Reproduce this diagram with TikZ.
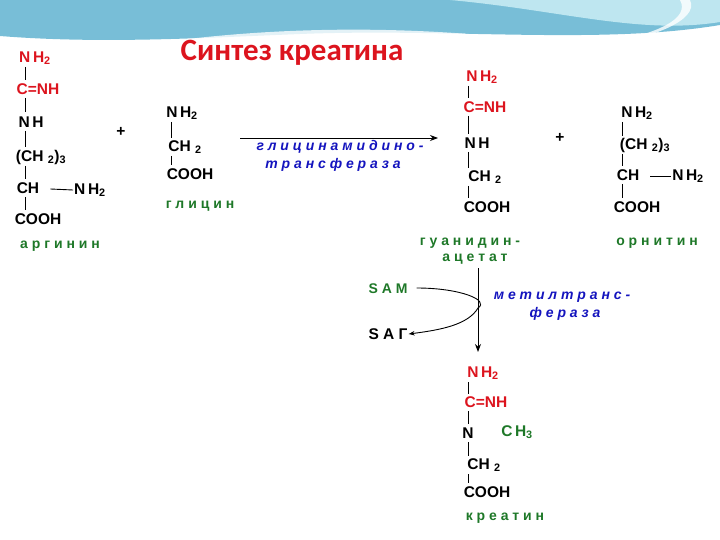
\documentclass[tikz,border=0pt]{standalone}
\usepackage{fontspec}
\setmainfont{Liberation Sans}
\newfontfamily\titlefont{Carlito}
\usetikzlibrary{arrows.meta}
\definecolor{cred}{RGB}{220,20,30}
\definecolor{cgreen}{RGB}{30,120,40}
\definecolor{cblue}{RGB}{20,20,190}
\definecolor{wave1}{RGB}{120,190,215}
\definecolor{wave2}{RGB}{190,230,240}
\begin{document}
\begin{tikzpicture}[x=1pt,y=-1pt,
  f/.style={font=\bfseries\fontsize{15.5}{15}\selectfont,inner sep=1pt},
  rf/.style={f,text=cred},
  lab/.style={font=\bfseries\fontsize{14}{14}\selectfont,text=cgreen,inner sep=1pt},
  enz/.style={font=\bfseries\itshape\fontsize{14}{14}\selectfont,text=cblue,inner sep=1pt},
  bond/.style={line width=0.9pt}]
\useasboundingbox (0,0) rectangle (720,540);
\fill[wave1] (0,0) -- (720,0) -- (720,25) .. controls (600,45) and (450,28) .. (300,34) .. controls (200,38) and (100,44) .. (0,36) -- cycle;
\fill[wave2] (450,0) -- (720,0) -- (720,22) .. controls (640,35) and (560,10) .. (450,0) -- cycle;
\fill[white,opacity=0.8] (150,44) .. controls (300,22) and (450,28) .. (560,44) .. controls (450,34) and (300,32) .. (150,44) -- cycle;
\fill[white,opacity=0.8] (690,0) .. controls (700,20) and (650,40) .. (600,44) .. controls (660,34) and (690,18) .. (680,0) -- cycle;
\node[font=\titlefont\bfseries\fontsize{31}{31}\selectfont,text=cred] (title) at (292,53) {Синтез креатина};
% arginine
\node[rf] (a1) at (35,58) {N\,H\textsubscript{2}};
\node[rf] (a2) at (38,89) {C=NH};
\node[f] (a3) at (31,122) {N\,H};
\node[f] (a4) at (41,157) {(CH \textsubscript{2})\textsubscript{3}};
\node[f] (a5) at (28,188) {CH};
\node[f] (a6) at (90,190) {N\,H\textsubscript{2}};
\node[f] (a7) at (38,219) {COOH};
\node[lab] (al) at (60,246) {а р г и н и н};
\draw[bond] (25,67) -- (25,80) (25,98) -- (25,112) (25,131) -- (25,147) (25,166) -- (25,179) (25,197) -- (25,210);
\draw[bond] (a5.east)++(10,1) -- (a6.west);
\node[f] (p1) at (121,132) {+};
% glycine
\node[f] (g1) at (182,113) {N\,H\textsubscript{2}};
\node[f] (g2) at (185,147) {CH \textsubscript{2}};
\node[f] (g3) at (190,174) {COOH};
\node[lab] (gl) at (200,206) {г л и ц и н};
\draw[bond] (171,122) -- (171,138) (171,156) -- (171,165);
% enzyme 1
\coordinate (e1s) at (240,138);
\coordinate (e1e) at (438,138);
\draw[bond,-{Stealth[length=8pt]}] (e1s) -- (e1e);
\node[enz] (en1) at (340,147) {г л и ц и н а м и д и н о -};
\node[enz] (en2) at (333,165) {т р а н с ф е р а з а};
% guanidinoacetate
\node[rf] (b1) at (482,77) {N\,H\textsubscript{2}};
\node[rf] (b2) at (485,107) {C=NH};
\node[f] (b3) at (477,143) {N\,H};
\node[f] (b4) at (485,177) {CH \textsubscript{2}};
\node[f] (b5) at (487,207) {COOH};
\draw[bond] (468,86) -- (468,98) (468,116) -- (468,134) (468,152) -- (468,168) (468,186) -- (468,198);
\node[lab] (bl1) at (470,243) {г у а н и д и н -};
\node[lab] (bl2) at (475,259) {а ц е т а т};
\node[f] (p2) at (560,138) {+};
% ornithine
\node[f] (o1) at (637,113) {N\,H\textsubscript{2}};
\node[f] (o2) at (645,145) {(CH \textsubscript{2})\textsubscript{3}};
\node[f] (o3) at (628,175) {CH};
\node[f] (o4) at (688,176) {N\,H\textsubscript{2}};
\node[f] (o5) at (637,207) {COOH};
\draw[bond] (622,122) -- (622,136) (622,154) -- (622,166) (622,184) -- (622,198);
\draw[bond] (o3.east)++(10,1) -- (o4.west);
\node[lab] (ol) at (657,243) {о р н и т и н};
% methyltransferase
\node[lab] (sam) at (388,289) {S A M};
\node[f] (sag) at (388,334) {S A Г};
\coordinate (m1) at (478,268);
\coordinate (m2) at (478,352);
\draw[bond,-{Stealth[length=8pt]}] (m1) -- (m2);
\draw[bond,-{Stealth[length=6pt]}] (sam.east) ++(8,-1) .. controls (460,288) and (490,300) .. (478,308) .. controls (468,325) and (440,330) .. (sag.east);
\node[enz] (en3) at (562,297) {м е т и л т р а н с -};
\node[enz] (en4) at (565,314) {ф е р а з а};
% creatine
\node[rf] (c1) at (483,373) {N\,H\textsubscript{2}};
\node[rf] (c2) at (486,402) {C=NH};
\node[f] (c3) at (468,433) {N};
\node[f,text=cgreen] (c4) at (517,432) {C\,H\textsubscript{3}};
\node[f] (c5) at (484,465) {CH \textsubscript{2}};
\node[f] (c6) at (487,492) {COOH};
\draw[bond] (468,382) -- (468,394) (468,411) -- (468,424) (468,442) -- (468,456) (468,474) -- (468,483);
\node[lab] (cl) at (505,518) {к р е а т и н};
\end{tikzpicture}
\end{document}
